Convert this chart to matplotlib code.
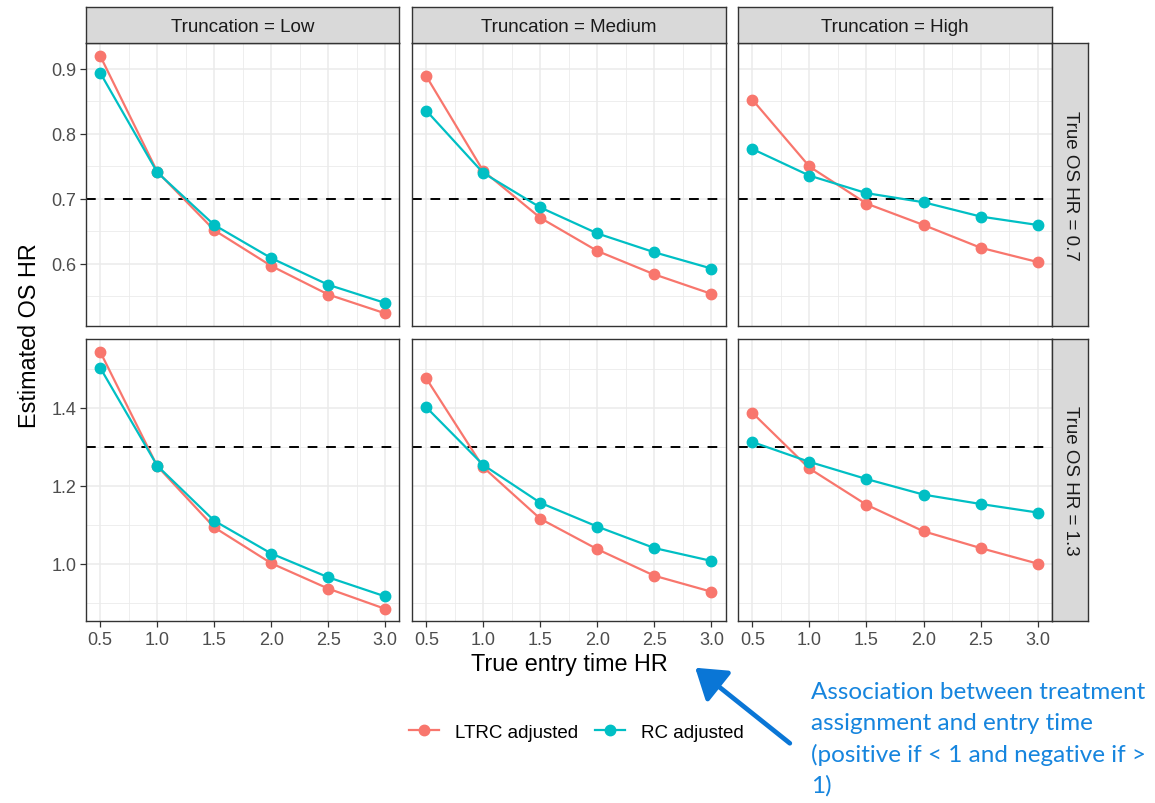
"""Facet grid of estimated vs true OS HR by truncation level (ggplot-like)."""

import matplotlib
matplotlib.use("Agg")
import matplotlib.pyplot as plt
from matplotlib.lines import Line2D
from matplotlib.patches import FancyArrowPatch

X_VALUES = [0.5, 1.0, 1.5, 2.0, 2.5, 3.0]
TRUNCATION = ["Low", "Medium", "High"]
TRUE_OS_HR = [0.7, 1.3]

# True OS HR = 0.7
ltrc_07_low = [0.920, 0.742, 0.652, 0.597, 0.553, 0.524]
rc_07_low = [0.894, 0.741, 0.660, 0.609, 0.568, 0.540]
ltrc_07_medium = [0.889, 0.743, 0.671, 0.620, 0.584, 0.554]
rc_07_medium = [0.836, 0.740, 0.687, 0.647, 0.618, 0.593]
ltrc_07_high = [0.853, 0.750, 0.693, 0.660, 0.625, 0.603]
rc_07_high = [0.777, 0.736, 0.709, 0.695, 0.673, 0.660]

# True OS HR = 1.3
ltrc_13_low = [1.543, 1.250, 1.093, 1.001, 0.936, 0.884]
rc_13_low = [1.502, 1.251, 1.110, 1.026, 0.965, 0.916]
ltrc_13_medium = [1.475, 1.247, 1.115, 1.037, 0.969, 0.928]
rc_13_medium = [1.401, 1.253, 1.156, 1.095, 1.040, 1.007]
ltrc_13_high = [1.387, 1.244, 1.151, 1.083, 1.040, 1.000]
rc_13_high = [1.312, 1.261, 1.217, 1.177, 1.153, 1.131]

LTRC = [[ltrc_07_low, ltrc_07_medium, ltrc_07_high],
        [ltrc_13_low, ltrc_13_medium, ltrc_13_high]]
RC = [[rc_07_low, rc_07_medium, rc_07_high],
      [rc_13_low, rc_13_medium, rc_13_high]]

Y_LIMITS = [(0.5046, 0.940), (0.853, 1.576)]
Y_MAJOR = [[0.6, 0.7, 0.8, 0.9], [1.0, 1.2, 1.4]]
Y_MINOR = [[0.55, 0.65, 0.75, 0.85], [0.9, 1.1, 1.3, 1.5]]
X_MINOR = [0.75, 1.25, 1.75, 2.25, 2.75]

RED = "#F8766D"
TEAL = "#00BFC4"
GREY20 = "#333333"
GREY30 = "#4D4D4D"
GRID = "#EBEBEB"
STRIP = "#D9D9D9"
ARROW_BLUE = "#0A76D6"
NOTE_BLUE = "#1685DE"

W, H = 1155, 804
COLS = [(86, 399.5), (412, 725.7), (738, 1052)]
ROWS = [(44, 327), (340, 622)]

plt.rcParams.update({"font.family": ["Liberation Sans", "DejaVu Sans"]})
fig = plt.figure(figsize=(W / 100, H / 100), dpi=100)


def px_axes(x0, y0, x1, y1):
    return fig.add_axes([x0 / W, 1 - y1 / H, (x1 - x0) / W, (y1 - y0) / H])


def strip_axes(x0, y0, x1, y1, label, rotation=0):
    sax = px_axes(x0, y0, x1, y1)
    sax.set_facecolor(STRIP)
    sax.set_xticks([])
    sax.set_yticks([])
    for spine in sax.spines.values():
        spine.set_color(GREY20)
        spine.set_linewidth(1.0)
    sax.text(0.5, 0.5, label, transform=sax.transAxes, ha="center",
             va="center_baseline" if rotation == 0 else "center",
             fontsize=13.5, color="#1A1A1A", rotation=rotation)
    return sax


for r, (y0, y1) in enumerate(ROWS):
    for c, (x0, x1) in enumerate(COLS):
        ax = px_axes(x0, y0, x1, y1)
        ax.set_xlim(0.375, 3.125)
        ax.set_ylim(*Y_LIMITS[r])
        ax.set_xticks(X_VALUES)
        ax.set_xticks(X_MINOR, minor=True)
        ax.set_yticks(Y_MAJOR[r])
        ax.set_yticks(Y_MINOR[r], minor=True)
        ax.grid(which="major", color=GRID, linewidth=1.1, zorder=0)
        ax.grid(which="minor", color=GRID, linewidth=0.6, zorder=0)
        ax.set_axisbelow(True)
        for spine in ax.spines.values():
            spine.set_color(GREY20)
            spine.set_linewidth(1.0)
        ax.tick_params(which="major", length=4, width=0.9, color=GREY20,
                       labelsize=13, labelcolor=GREY30, pad=3)
        ax.tick_params(which="minor", length=0)
        ax.xaxis.set_major_formatter(plt.FormatStrFormatter("%.1f"))
        ax.yaxis.set_major_formatter(plt.FormatStrFormatter("%.1f"))
        if r != len(ROWS) - 1:
            ax.tick_params(axis="x", bottom=False, labelbottom=False)
        if c != 0:
            ax.tick_params(axis="y", left=False, labelleft=False)

        ax.axhline(TRUE_OS_HR[r], color="black", linewidth=1.4, dashes=(5, 4.5), zorder=2)
        ax.plot(X_VALUES, LTRC[r][c], color=RED, linewidth=1.6, marker="o",
                markersize=7.5, zorder=3)
        ax.plot(X_VALUES, RC[r][c], color=TEAL, linewidth=1.6, marker="o",
                markersize=7.5, zorder=3)

        if r == 0:
            strip_axes(x0, 8, x1, 44, f"Truncation = {TRUNCATION[c]}")
    strip_axes(1052, y0, 1088, y1, f"True OS HR = {TRUE_OS_HR[r]}", rotation=-90)

fig.text(30 / W, 1 - 336 / H, "Estimated OS HR", rotation=90, ha="center",
         va="center", fontsize=16.8, color="black")
fig.text(569 / W, 1 - 665 / H, "True entry time HR", ha="center", va="center",
         fontsize=16.8, color="black")

handles = [
    Line2D([], [], color=RED, linewidth=1.6, marker="o", markersize=7.5, label="LTRC adjusted"),
    Line2D([], [], color=TEAL, linewidth=1.6, marker="o", markersize=7.5, label="RC adjusted"),
]
fig.legend(handles=handles, loc="center", bbox_to_anchor=(576 / W, 1 - 733 / H), ncol=2,
           frameon=False, fontsize=13.5, handlelength=1.6, handletextpad=0.85,
           columnspacing=0.9)

arrow = FancyArrowPatch((792 / W, 1 - 746 / H), (693 / W, 1 - 667 / H),
                        transform=fig.transFigure, arrowstyle="-|>,head_width=8,head_length=12",
                        color=ARROW_BLUE, linewidth=3.4, mutation_scale=1.5)
fig.add_artist(arrow)

fig.text(811 / W, 1 - 682 / H,
         "Association between treatment\nassignment and entry time\n"
         "(positive if < 1 and negative if >\n1)",
         ha="left", va="top", fontsize=17.5, color=NOTE_BLUE, linespacing=1.56,
         family=["Lato", "DejaVu Sans"])

fig.savefig("out.png", dpi=100)
